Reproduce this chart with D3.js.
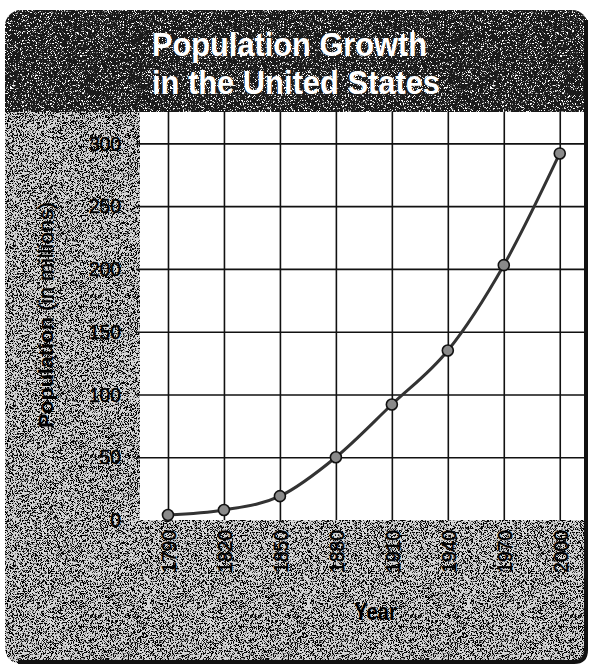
<!DOCTYPE html>
<html lang="en">
<head>
    <meta charset="utf-8">
    <title>Population Growth in the United States</title>
    <style>
        body { margin: 0; background: #fff; }
        svg { display: block; }
        text { font-family: "Liberation Sans", Arial, sans-serif; }
    </style>
</head>
<body>
    <div id="container"></div>
</body>
<script src="https://d3js.org/d3.v7.min.js"></script>
<script>
    // values
    const years = [1790, 1820, 1850, 1880, 1910, 1940, 1970, 2000]
    const population = [4, 8, 19, 50, 92, 135, 203, 292]
    const yTicks = [0, 50, 100, 150, 200, 250, 300]
    const titleLines = ["Population Growth", "in the United States"]

    const W = 597, H = 670
    const plot = {left: 140, right: 584, top: 112, bottom: 520}
    // the printed type is condensed, so squeeze digits to this width each
    const DIGIT_W = 10.7

    let svg = d3.select("#container").append("svg")
        .attr("width", W)
        .attr("height", H)

    let defs = svg.append("defs")

    // speckled print texture
    function speckle(id, freq, gain, offset, color) {
        let f = defs.append("filter").attr("id", id)
            .attr("x", 0).attr("y", 0).attr("width", 1).attr("height", 1)
        f.append("feTurbulence")
            .attr("type", "fractalNoise")
            .attr("baseFrequency", freq)
            .attr("numOctaves", 3)
            .attr("seed", 11)
            .attr("result", "noise")
        f.append("feColorMatrix")
            .attr("in", "noise")
            .attr("type", "matrix")
            .attr("values", `0 0 0 0 ${color}  0 0 0 0 ${color}  0 0 0 0 ${color}  ${gain} 0 0 0 ${offset}`)
            .attr("result", "dots")
        f.append("feComposite")
            .attr("in", "dots")
            .attr("in2", "SourceGraphic")
            .attr("operator", "in")
    }
    speckle("greySpeck", 1.6, 9, -4.4, 0)
    speckle("darkSpeck", 1.6, 9, -5.2, 1)

    defs.append("clipPath").attr("id", "card")
        .append("rect")
        .attr("x", 5).attr("y", 10)
        .attr("width", 583).attr("height", 654)
        .attr("rx", 16)

    let card = svg.append("g").attr("clip-path", "url(#card)")

    // grey body
    card.append("rect")
        .attr("x", 0).attr("y", 0).attr("width", W).attr("height", H)
        .attr("fill", "#d6d6d6")
    card.append("rect")
        .attr("x", 0).attr("y", 0).attr("width", W).attr("height", H)
        .attr("fill", "#fff")
        .attr("filter", "url(#greySpeck)")

    // dark header
    card.append("rect")
        .attr("x", 0).attr("y", 0).attr("width", W).attr("height", plot.top)
        .attr("fill", "#1a1a1a")
    card.append("rect")
        .attr("x", 0).attr("y", 0).attr("width", W).attr("height", plot.top)
        .attr("fill", "#fff")
        .attr("filter", "url(#darkSpeck)")

    // white plotting area
    card.append("rect")
        .attr("x", plot.left).attr("y", plot.top)
        .attr("width", plot.right - plot.left)
        .attr("height", plot.bottom - plot.top)
        .attr("fill", "#fff")

    // card border on right and bottom
    svg.append("path")
        .attr("d", `M586,20 L586,650 Q586,662 574,662 L18,662`)
        .attr("fill", "none")
        .attr("stroke", "#111")
        .attr("stroke-width", 4)

    const titleWidths = [275, 288]
    svg.selectAll(".title")
        .data(titleLines)
        .join("text")
        .attr("class", "title")
        .attr("x", 152)
        .attr("y", (d, i) => 56 + i * 38)
        .attr("textLength", (d, i) => titleWidths[i])
        .attr("lengthAdjust", "spacingAndGlyphs")
        .attr("fill", "#fff")
        .style("font-size", "34px")
        .style("font-weight", "bold")
        .text(d => d)

    let x = d3.scaleLinear()
        .domain([1775, 2013])
        .range([plot.left, plot.right])

    let y = d3.scaleLinear()
        .domain([0, 325])
        .range([plot.bottom, plot.top])

    let yAxis = d3.axisLeft(y)
        .tickValues(yTicks)
        .tickSize(-(plot.right - plot.left))
        .tickPadding(19)

    let yG = svg.append("g")
        .attr("transform", `translate(${plot.left}, 0)`)
        .call(yAxis)
    yG.select(".domain").remove()
    yG.selectAll(".tick line")
        .attr("stroke", "#111")
        .attr("stroke-width", 1.6)
        .attr("x1", -4)
    yG.selectAll(".tick").filter(d => d == 0).select("line").remove()
    yG.selectAll(".tick text")
        .attr("fill", "#000")
        .attr("stroke", "#000")
        .attr("stroke-width", 0.5)
        .attr("textLength", d => String(d).length * DIGIT_W)
        .attr("lengthAdjust", "spacingAndGlyphs")
        .style("font-size", "21px")

    let xAxis = d3.axisBottom(x)
        .tickValues(years)
        .tickSize(-(plot.bottom - plot.top))
        .tickPadding(0)
        .tickFormat(d3.format("d"))

    let xG = svg.append("g")
        .attr("transform", `translate(0, ${plot.bottom})`)
        .call(xAxis)
    xG.select(".domain").remove()
    xG.selectAll(".tick line")
        .attr("stroke", "#111")
        .attr("stroke-width", 1.6)
    xG.selectAll(".tick text")
        .attr("fill", "#000")
        .attr("stroke", "#000")
        .attr("stroke-width", 0.5)
        .attr("transform", "rotate(-90)")
        .attr("text-anchor", "end")
        .attr("x", -10)
        .attr("y", 0)
        .attr("dy", "0.36em")
        .attr("textLength", d => String(d).length * DIGIT_W)
        .attr("lengthAdjust", "spacingAndGlyphs")
        .style("font-size", "21px")

    // axis titles
    let yTitle = svg.append("text")
        .attr("transform", "translate(53, 428) rotate(-90)")
        .attr("textLength", 226)
        .attr("lengthAdjust", "spacingAndGlyphs")
        .attr("fill", "#000")
        .style("font-size", "20px")
    yTitle.append("tspan").style("font-weight", "bold").text("Population ")
    yTitle.append("tspan").attr("stroke", "#000").attr("stroke-width", 0.4).text("(in millions)")

    svg.append("text")
        .attr("x", 354)
        .attr("y", 620)
        .attr("textLength", 43)
        .attr("lengthAdjust", "spacingAndGlyphs")
        .attr("fill", "#000")
        .style("font-size", "23px")
        .style("font-weight", "bold")
        .text("Year")

    // the data line
    let points = years.map((yr, i) => ({year: yr, value: population[i]}))

    let line = d3.line()
        .x(d => x(d.year))
        .y(d => y(d.value))
        .curve(d3.curveMonotoneX)

    svg.append("path")
        .datum(points)
        .attr("d", line)
        .attr("fill", "none")
        .attr("stroke", "#333")
        .attr("stroke-width", 3)

    svg.selectAll(".dot")
        .data(points)
        .join("circle")
        .attr("class", "dot")
        .attr("cx", d => x(d.year))
        .attr("cy", d => y(d.value))
        .attr("r", 5.5)
        .attr("fill", "#8a8a8a")
        .attr("stroke", "#111")
        .attr("stroke-width", 1.6)
</script>
</html>
